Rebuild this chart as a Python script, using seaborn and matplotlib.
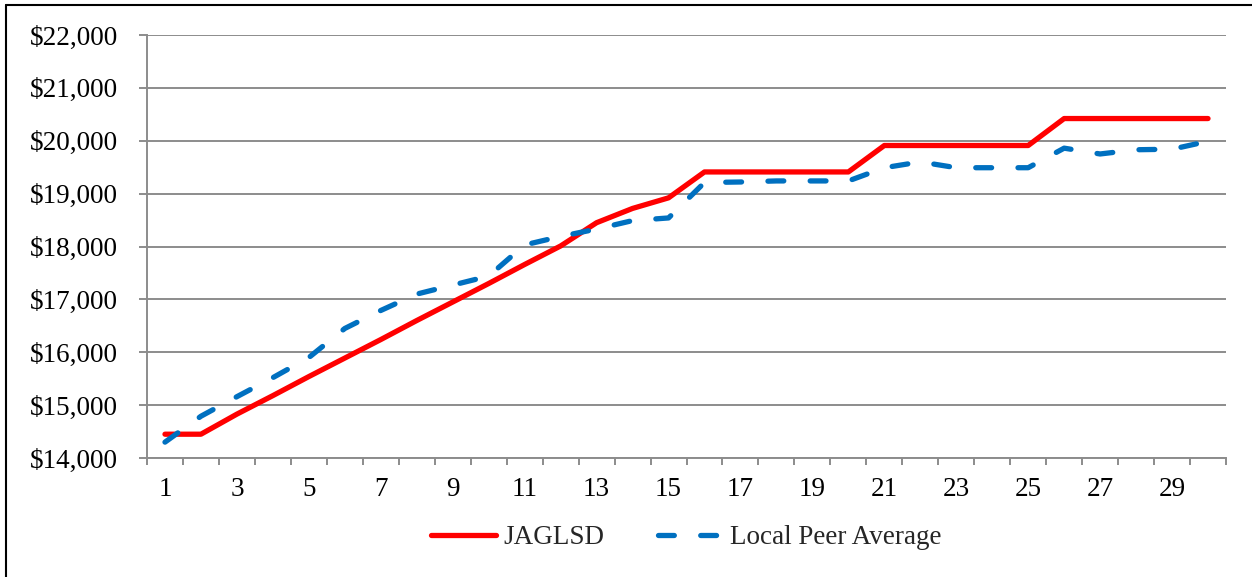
import matplotlib
matplotlib.use("Agg")
import matplotlib.pyplot as plt
from matplotlib.lines import Line2D
from matplotlib.ticker import FuncFormatter, FixedLocator
import numpy as np
import pandas as pd
import seaborn as sns

# Salary schedule steps and annual salaries
steps = list(range(1, 31))
jaglsd = [14450, 14450, 14830, 15180, 15540, 15890, 16240, 16600, 16950, 17300,
          17660, 18010, 18450, 18720, 18920, 19410, 19410, 19410, 19410, 19410,
          19910, 19910, 19910, 19910, 19910, 20420, 20420, 20420, 20420, 20420]
peer_avg = [14300, 14790, 15160, 15520, 15900, 16450, 16790, 17100, 17270, 17440,
            18030, 18190, 18330, 18490, 18540, 19210, 19220, 19240, 19240, 19240,
            19490, 19600, 19490, 19490, 19490, 19860, 19750, 19830, 19840, 19990]
series_names = ["JAGLSD", "Local Peer Average"]
y_ticks = [14000, 15000, 16000, 17000, 18000, 19000, 20000, 21000, 22000]
x_labels = list(range(1, 31, 2))

df = pd.DataFrame({
    "step": steps * 2,
    "salary": jaglsd + peer_avg,
    "series": [series_names[0]] * len(steps) + [series_names[1]] * len(steps),
})

sns.set_theme(style="white")
plt.rcParams["font.family"] = ["Liberation Serif", "DejaVu Serif"]
plt.rcParams["lines.solid_capstyle"] = "round"
plt.rcParams["lines.dash_capstyle"] = "round"
plt.rcParams["lines.solid_joinstyle"] = "round"
plt.rcParams["lines.dash_joinstyle"] = "round"

W, H = 1252, 577
FS = 19.5
fig = plt.figure(figsize=(W / 100, H / 100), dpi=100)
fig.patch.set_facecolor("white")
ax = fig.add_axes([147 / W, 1 - 458 / H, (1226 - 147) / W, (458 - 35) / H])

grid_col = "#8c8c8c"
palette = {series_names[0]: "#ff0000", series_names[1]: "#0070c0"}
dashes = {series_names[0]: "", series_names[1]: (3, 5)}

sns.lineplot(data=df, x="step", y="salary", hue="series", style="series",
             palette=palette, dashes=dashes, linewidth=3.8, ax=ax,
             legend=False, zorder=3)

ax.set_xlim(0.5, 30.5)
ax.set_ylim(14000, 22000)
ax.set_xlabel("")
ax.set_ylabel("")

ax.yaxis.set_major_locator(FixedLocator(y_ticks))
ax.yaxis.set_major_formatter(FuncFormatter(lambda v, p: f"${v:,.0f}"))
ax.grid(axis="y", color=grid_col, linewidth=1.4)
ax.grid(axis="x", visible=False)
ax.set_axisbelow(True)

ax.set_xticks(x_labels)
ax.set_xticklabels([str(v) for v in x_labels])
ax.set_xticks(np.arange(0.5, 31, 1.0), minor=True)
ax.tick_params(axis="x", which="major", length=0, pad=14, labelsize=FS,
               colors="black")
ax.tick_params(axis="x", which="minor", length=5, width=1.4, color=grid_col,
               bottom=True, direction="out")
ax.tick_params(axis="y", which="major", length=6, width=1.4, color=grid_col,
               left=True, direction="out", pad=15, labelsize=FS,
               labelcolor="black")

for side in ("top", "right"):
    ax.spines[side].set_visible(False)
for side in ("left", "bottom"):
    ax.spines[side].set_color(grid_col)
    ax.spines[side].set_linewidth(1.4)

handles = [
    Line2D([], [], color=palette[series_names[0]], linewidth=3.8),
    Line2D([], [], color=palette[series_names[1]], linewidth=3.8,
           dashes=dashes[series_names[1]]),
]
fig.legend(handles, series_names, loc="center", ncol=2,
           bbox_to_anchor=((147 + 1226) / 2 / W, 1 - 538 / H),
           frameon=False, fontsize=FS, handlelength=2.4,
           handletextpad=0.25, columnspacing=2.0)

# chart frame (left and top edges)
fig.add_artist(Line2D([6 / W, 6 / W], [0, 1 - 5 / H], color="black",
                      linewidth=1.5, transform=fig.transFigure))
fig.add_artist(Line2D([6 / W, 1], [1 - 5 / H, 1 - 5 / H], color="black",
                      linewidth=1.5, transform=fig.transFigure))

fig.savefig("out.png", dpi=100)
